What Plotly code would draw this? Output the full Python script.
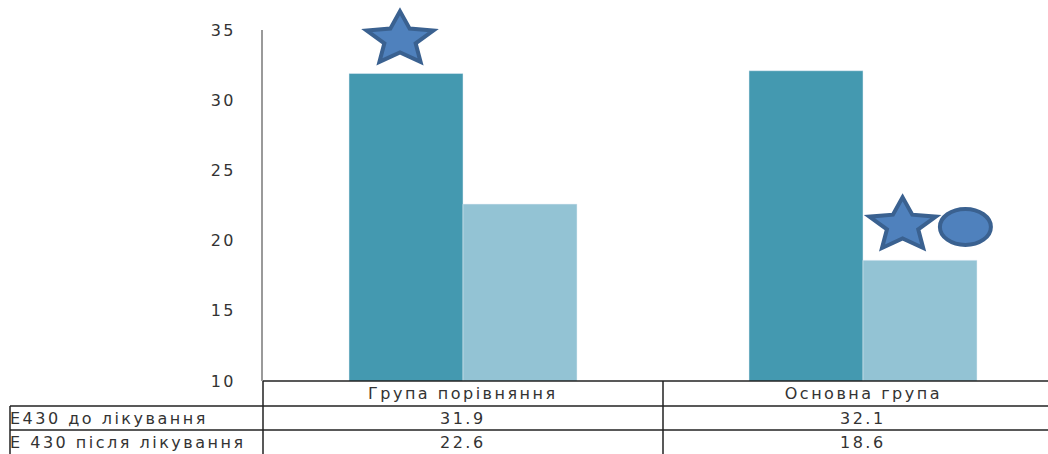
import math

import plotly.graph_objects as go

# дані
groups = ["Група порівняння", "Основна група"]
series_names = ["Е430 до лікування", "Е 430 після лікування"]
before = [31.9, 32.1]
after = [22.6, 18.6]
y_ticks = [10, 15, 20, 25, 30, 35]
y_range = [10, 35]

# позначки достовірності (зірка / коло)
star_x = [-0.1575, 1.099]
star_y = [34.34, 21.09]
circle_x = [1.256]
circle_y = [20.97]

W, H = 1048, 454
ML, MT, MB = 263, 30, 73
PW, PH = W - ML, H - MT - MB

DARK = "#4499b0"
LIGHT = "#93c3d4"
MARK_FILL = "#4f81bd"
MARK_LINE = "#3a6190"
TXT = "#333333"
FONT = "DejaVu Sans"


def px_x(p):
    return (p - ML) / PW


def px_y(p):
    return (H - MB - p) / PH


def y_paper(v):
    # значення осі Y -> частка висоти області побудови (щоб позначки не обрізались)
    return (v - y_range[0]) / (y_range[1] - y_range[0])


def star_path(rx, ry, k=0.47):
    pts = []
    for i in range(10):
        a = math.pi / 2 + i * math.pi / 5
        r = 1 if i % 2 == 0 else k
        pts.append(f"{rx * r * math.cos(a):.2f},{ry * r * math.sin(a):.2f}")
    return "M" + " L".join(pts) + " Z"


xpos = list(range(len(groups)))

fig = go.Figure()
fig.add_trace(go.Bar(x=xpos, y=before, name=series_names[0], marker_color=DARK))
fig.add_trace(go.Bar(x=xpos, y=after, name=series_names[1], marker_color=LIGHT))

shapes = []
for sx, sy in zip(star_x, star_y):
    shapes.append(dict(
        type="path", xref="x", yref="paper", xsizemode="pixel", ysizemode="pixel",
        xanchor=sx, yanchor=y_paper(sy), path=star_path(35, 28),
        fillcolor=MARK_FILL, line=dict(color=MARK_LINE, width=4), layer="above",
    ))
for cx, cy in zip(circle_x, circle_y):
    shapes.append(dict(
        type="circle", xref="x", yref="paper", xsizemode="pixel", ysizemode="pixel",
        xanchor=cx, yanchor=y_paper(cy), x0=-25.5, x1=25.5, y0=-18, y1=18,
        fillcolor=MARK_FILL, line=dict(color=MARK_LINE, width=4), layer="above",
    ))

# таблиця даних під віссю
LC = dict(color="#222222", width=1.5)
shapes.append(dict(type="line", xref="paper", yref="paper",
                   x0=0, x1=1.05, y0=px_y(381), y1=px_y(381), line=LC))
for p in (406, 430):
    shapes.append(dict(type="line", xref="paper", yref="paper",
                       x0=px_x(10), x1=1.05, y0=px_y(p), y1=px_y(p), line=LC))
shapes.append(dict(type="line", xref="paper", yref="paper",
                   x0=px_x(10), x1=px_x(10), y0=px_y(406), y1=px_y(460), line=LC))
shapes.append(dict(type="line", xref="paper", yref="paper",
                   x0=0, x1=0, y0=px_y(381), y1=px_y(460), line=LC))
shapes.append(dict(type="line", xref="x", yref="paper",
                   x0=0.5, x1=0.5, y0=px_y(381), y1=px_y(460), line=LC))

tfont = dict(size=16, color=TXT, family=FONT)
ann = []
row_y = [px_y(393.5), px_y(418), px_y(442.5)]
for i, g in enumerate(groups):
    ann.append(dict(x=i, y=row_y[0], xref="x", yref="paper", text=g,
                    showarrow=False, yanchor="middle", font=tfont))
    for r, vals in enumerate((before, after)):
        ann.append(dict(x=i, y=row_y[r + 1], xref="x", yref="paper",
                        text=f"{vals[i]:.1f}", showarrow=False,
                        yanchor="middle", font=tfont))
for r, name in enumerate(series_names):
    ann.append(dict(x=px_x(8), y=row_y[r + 1], xref="paper", yref="paper",
                    text=name, showarrow=False, xanchor="left", align="left",
                    yanchor="middle", font=tfont))

fig.update_layout(
    width=W,
    height=H,
    margin=dict(l=ML, r=0, t=MT, b=MB),
    paper_bgcolor="white",
    plot_bgcolor="white",
    barmode="group",
    bargap=0.43,
    bargroupgap=0,
    showlegend=False,
    shapes=shapes,
    annotations=ann,
    xaxis=dict(range=[-0.5, -0.5 + PW / 400], showticklabels=False,
               showgrid=False, zeroline=False, ticks=""),
    yaxis=dict(range=y_range, tickvals=y_ticks, showgrid=False,
               zeroline=False, showline=True, linecolor="#9a9a9a", linewidth=1.5,
               ticks="", ticklabelstandoff=22, tickfont=tfont),
)

post = """
document.body.style.margin = '0';
var gd = document.getElementById('{plot_id}');
gd.querySelectorAll('.ytick text, .annotation-text').forEach(function (t) {
    t.style.letterSpacing = '2.5px';
});
"""

fig.write_html("out.html", post_script=post, config={"displayModeBar": False})
